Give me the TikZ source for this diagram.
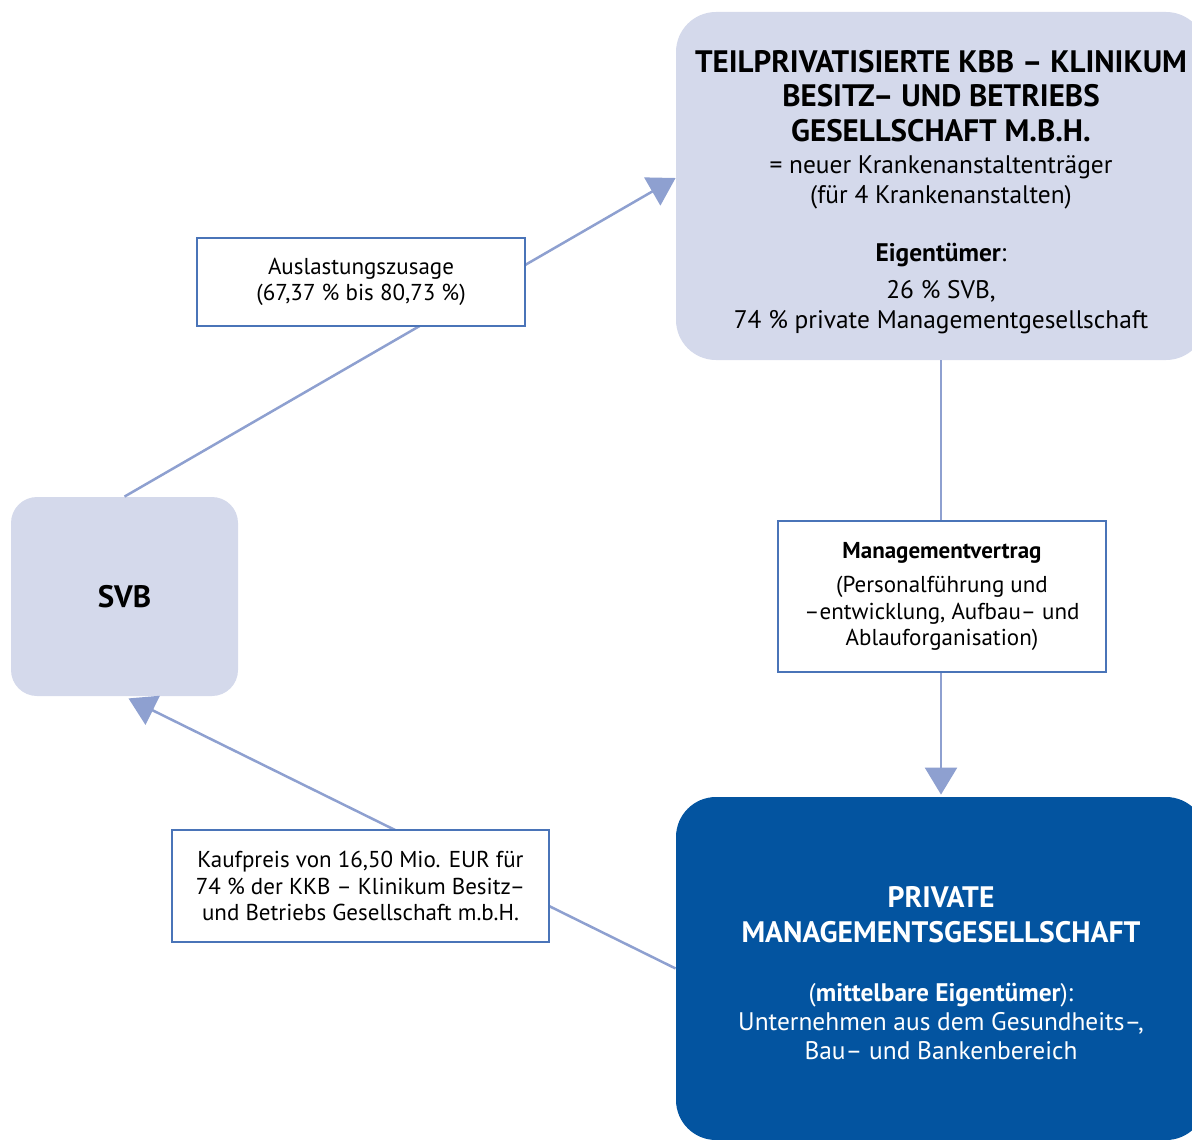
\documentclass[tikz,border=0pt]{standalone}
\usepackage{fontspec}
\setmainfont{PT Sans}
\usetikzlibrary{arrows.meta,shapes,calc,positioning}
\definecolor{boxlight}{HTML}{D4D9EB}
\definecolor{boxdark}{HTML}{0354A0}
\definecolor{linkline}{HTML}{8EA0D0}
\definecolor{labelframe}{HTML}{4A74B8}
\newcommand{\titlefont}{\fontsize{15.5}{17.25}\selectfont\bfseries}
\newcommand{\bodyfont}{\fontsize{12.7}{15}\selectfont\mdseries}
\newcommand{\labelfont}{\fontsize{11.5}{13.25}\selectfont}

\begin{document}
\begin{tikzpicture}[x=0.5pt,y=-0.5pt]
		\tikzstyle{every node}=[font=\labelfont, align=center, inner sep=0pt]
		\tikzstyle{entity}=[rounded corners=20pt, fill=boxlight, text=black]
		\tikzstyle{entitydark}=[entity, fill=boxdark, text=white]
		\tikzstyle{labelbox}=[draw=labelframe, line width=1pt, fill=white]
		\tikzstyle{link}=[draw=linkline, line width=1.25pt]
		\tikzstyle{linkarrow}=[link, -{Triangle[width=16pt,length=13.5pt]}]
		\useasboundingbox (0,0) rectangle (1192,1139);
		% owners and operators
		\node[entity, font=\bodyfont, minimum width=265pt, minimum height=174pt] (kbb) at (941,186) {%
			\titlefont\rule{0pt}{17pt}TEILPRIVATISIERTE KBB -- KLINIKUM\\[2.25pt]
			\titlefont BESITZ-- UND BETRIEBS\\[2.25pt]
			\titlefont GESELLSCHAFT M.B.H.\\[1pt]
			= neuer Krankenanstaltenträger\\
			(für 4 Krankenanstalten)\\[14pt]
			\textbf{Eigentümer}:\\[3.5pt]
			26 \% SVB,\\
			74 \% private Managementgesellschaft};
		\node[entity, rounded corners=13pt, minimum width=113.5pt, minimum height=99.5pt] (svb) at (124.5,596.5) {\titlefont SVB};
		\node[entitydark, font=\fontsize{12.7}{14.5}\selectfont, minimum width=265pt, minimum height=171.5pt] (private) at (941,968.5) {%
			\fontsize{14.8}{17.5}\selectfont\bfseries\rule{0pt}{15pt}PRIVATE\\[3pt]
			\fontsize{14.8}{17.5}\selectfont\bfseries MANAGEMENTSGESELLSCHAFT\\[15pt]
			(\textbf{mittelbare Eigentümer}):\\
			Unternehmen aus dem Gesundheits--,\\
			Bau-- und Bankenbereich};
		% connections
		\draw[linkarrow] (svb.north) -- ([yshift=4pt]kbb.west);
		\draw[linkarrow] (kbb.south) -- ([yshift=1pt]private.north);
		\draw[linkarrow] (private.west) -- ([xshift=2pt,yshift=-1pt]svb.south);
		% what flows along them
		\node[labelbox, minimum width=164pt, minimum height=44pt] (load) at (361,282) {%
			Auslastungszusage\\
			(67,37 \% bis 80,73 \%)};
		\node[labelbox, minimum width=164pt, minimum height=75.5pt] (contract) at (942,596.5) {%
			\textbf{Managementvertrag}\\[3.75pt]
			(Personalführung und\\
			--entwicklung, Aufbau-- und\\
			Ablauforganisation)};
		\node[labelbox, minimum width=188.5pt, minimum height=56pt] (price) at (360.5,886) {%
			Kaufpreis von 16,50 Mio. EUR für\\
			74 \% der KKB -- Klinikum Besitz--\\
			und Betriebs Gesellschaft m.b.H.};
	\end{tikzpicture}
\end{document}
